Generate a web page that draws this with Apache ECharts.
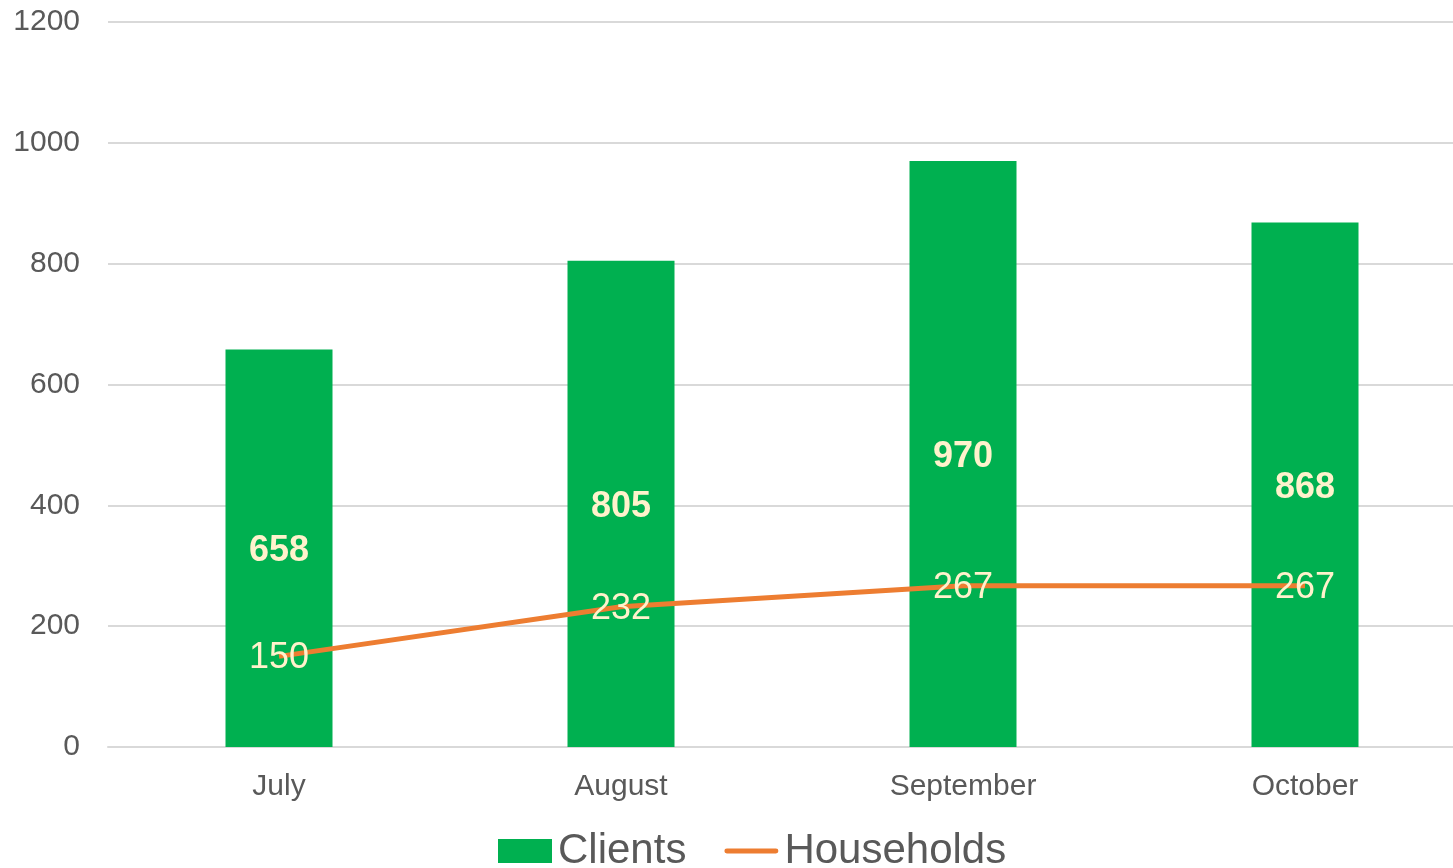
<!DOCTYPE html>
<html>
<head>
<meta charset="utf-8">
<script src="https://cdn.jsdelivr.net/npm/echarts@6/dist/echarts.min.js"></script>
<style>
  html, body { margin: 0; padding: 0; background: #fff; }
  #chart { width: 1453px; height: 868px; }
</style>
</head>
<body>
<div id="chart"></div>
<script>
const months = ['July', 'August', 'September', 'October']
const clients = [658, 805, 970, 868]
const households = [150, 232, 267, 267]

const font = '"Liberation Sans", Arial, sans-serif'
const chart = echarts.init(document.getElementById('chart'))

chart.setOption({
  animation: false,
  textStyle: { fontFamily: font },
  // the plot runs past the right edge of the picture, as in the original
  grid: { left: 108, width: 1368, top: 22, bottom: 121, outerBoundsMode: 'none', containLabel: false },
  legend: {
    left: 498,
    top: 830,
    padding: 0,
    itemGap: 38,
    itemWidth: 54,
    itemHeight: 24,
    textStyle: { fontSize: 42, color: '#595959', padding: [0, 0, 0, 1] },
    data: [
      { name: 'Clients', icon: 'rect' },
      { name: 'Households', icon: 'path://M2,0 L52,0 A2.5,2.5 0 0 1 52,5 L2,5 A2.5,2.5 0 0 1 2,0 Z' },
    ],
  },
  xAxis: {
    type: 'category',
    data: months,
    axisTick: { show: false },
    axisLine: { lineStyle: { color: '#d9d9d9', width: 2 } },
    axisLabel: { fontSize: 30, color: '#595959', margin: 25 },
  },
  yAxis: {
    type: 'value',
    min: 0,
    max: 1200,
    interval: 200,
    axisLabel: {
      fontSize: 30,
      color: '#595959',
      margin: 28,
      padding: [6, 0, 0, 0],
      formatter: (v) => String(v),
    },
    splitLine: { lineStyle: { color: '#d9d9d9', width: 2 } },
  },
  series: [
    {
      name: 'Clients',
      type: 'bar',
      data: clients,
      barWidth: 107,
      itemStyle: { color: '#00B050' },
      label: {
        show: true,
        position: 'inside',
        offset: [0, 3],
        color: '#FFF2CC',
        fontWeight: 'bold',
        fontSize: 36,
      },
    },
    {
      name: 'Households',
      type: 'line',
      data: households,
      symbol: 'circle',
      symbolSize: 0,
      showSymbol: true,
      lineStyle: { color: '#ED7D31', width: 5 },
      itemStyle: { color: '#ED7D31' },
      label: {
        show: true,
        position: 'inside',
        offset: [0, 2],
        color: '#FFF2CC',
        fontSize: 36,
      },
    },
  ],
})
</script>
</body>
</html>
